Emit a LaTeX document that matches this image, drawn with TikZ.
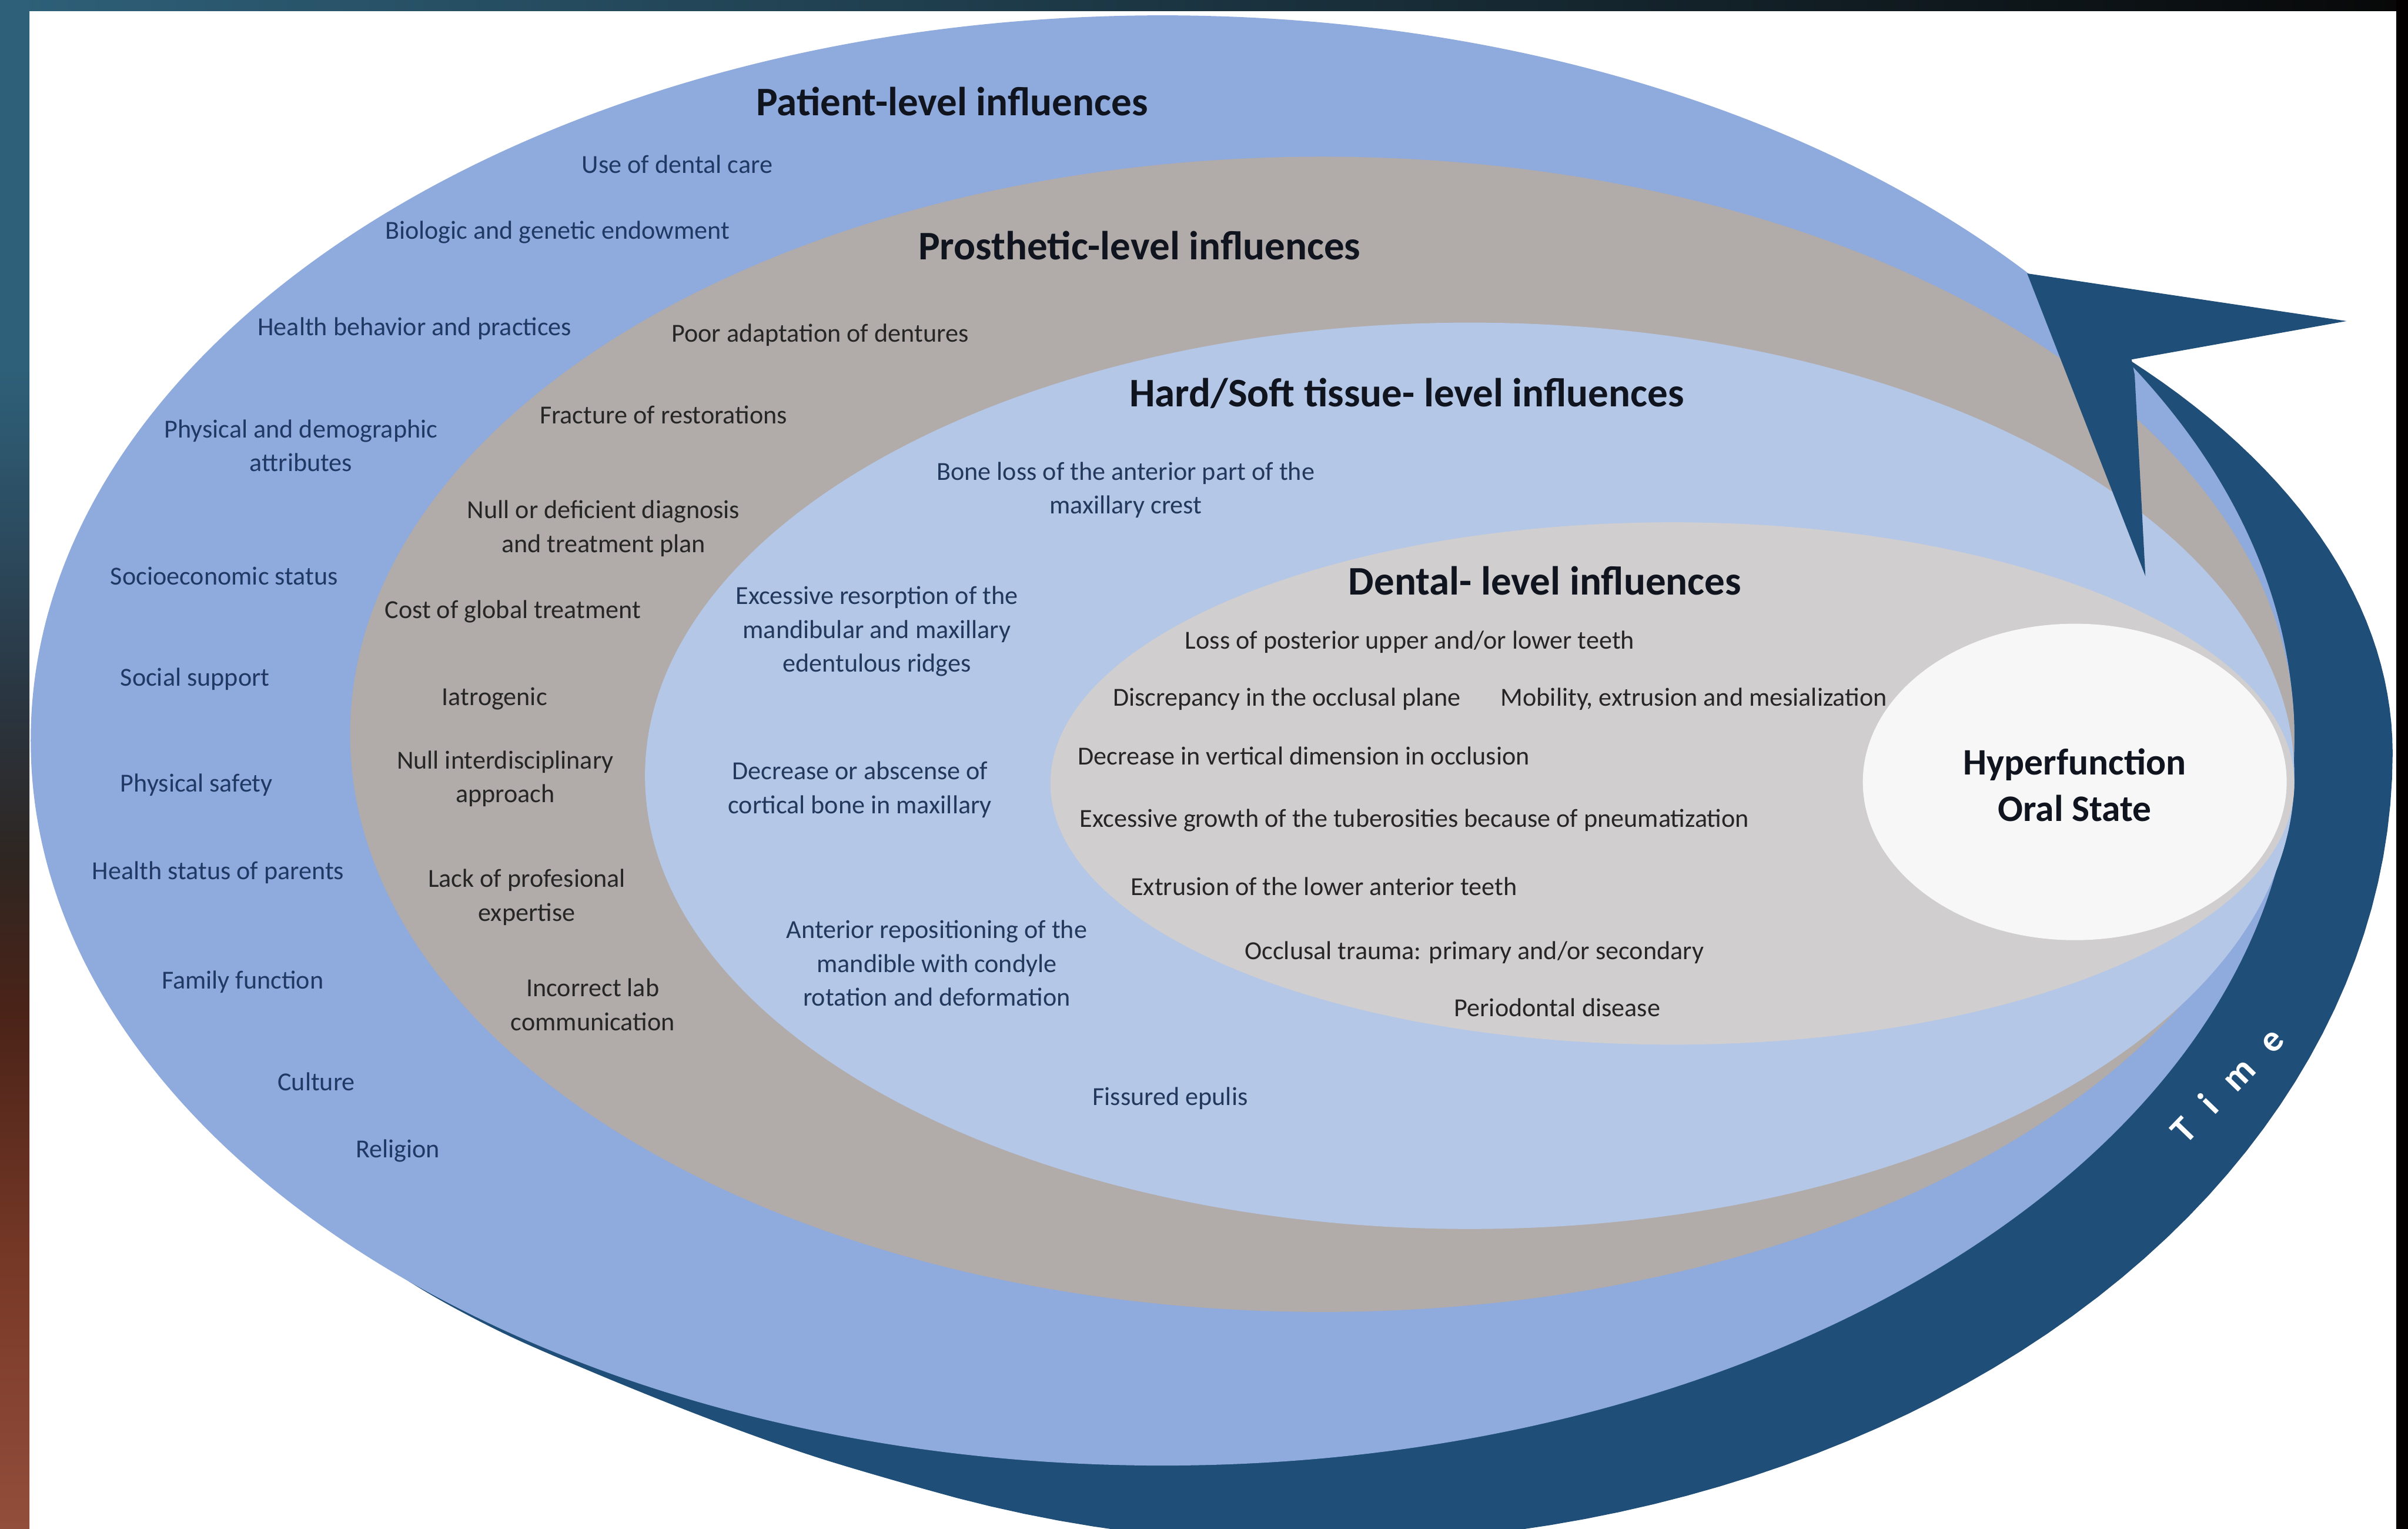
\documentclass[tikz,border=0pt]{standalone}
\usepackage{fontspec}
\setmainfont{Carlito}

\definecolor{patientblue}{HTML}{8FAADC}
\definecolor{prostgrey}{HTML}{B1ABA9}
\definecolor{tissueblue}{HTML}{B4C7E7}
\definecolor{dentalgrey}{HTML}{D0CECE}
\definecolor{corewhite}{HTML}{F7F7F7}
\definecolor{timeblue}{HTML}{1F4E79}
\definecolor{navytext}{HTML}{1F3864}
\definecolor{greytext}{HTML}{262626}
\definecolor{tissuetext}{HTML}{22385C}
\definecolor{titletext}{HTML}{10141F}
\definecolor{frameteal}{HTML}{2E6079}
\definecolor{frametealdark}{HTML}{2C4D62}
\definecolor{frameslate}{HTML}{2A3540}
\definecolor{framedark}{HTML}{2E2622}
\definecolor{framebrown}{HTML}{4A2318}
\definecolor{framered}{HTML}{7A3A28}
\definecolor{framerust}{HTML}{934D3B}

\pgfdeclareverticalshading{leftframe}{100bp}{%
  color(0bp)=(framerust); color(25bp)=(framerust); color(33bp)=(framered);
  color(42bp)=(framebrown); color(47bp)=(framedark); color(52bp)=(frameslate);
  color(58bp)=(frametealdark); color(63bp)=(frameteal); color(75bp)=(frameteal);
  color(100bp)=(frameteal)}

\begin{document}
\begin{tikzpicture}[
    x=0.016633cm, y=-0.016633cm,
    leveltitle/.style={text=titletext, font=\fontsize{12.5}{15}\selectfont\bfseries, inner sep=0pt},
    patientitem/.style={text=navytext, font=\fontsize{8}{10.4}\selectfont, align=center, inner sep=0pt},
    prostitem/.style={text=greytext, font=\fontsize{8}{10.4}\selectfont, align=center, inner sep=0pt},
    tissueitem/.style={text=tissuetext, font=\fontsize{8}{10.4}\selectfont, align=center, inner sep=0pt},
    dentalitem/.style={text=greytext, font=\fontsize{8}{10.4}\selectfont, align=center, inner sep=0pt}
  ]
  \useasboundingbox (0,0) rectangle (1568,995.3);
  \fill[white] (0,0) rectangle (1568,995.3);

  % Time arrow, body first so the rings sit on it
  \fill[timeblue]
    plot[domain=-41:0, samples=30, variable=\t] ({858+700*cos(\t)}, {490+390*sin(\t)})
    -- plot[domain=0:111.5, samples=60, variable=\t] ({858+700*cos(\t)}, {490+515*sin(\t)})
    -- plot[smooth, tension=0.6] coordinates {
      (601,969) (530,948) (460,923) (383,892) (320,864) (260,830) (210,790)}
    -- (420,700) -- (1000,750) -- (1380,420) -- (1390,244) -- cycle;

  % Rings
  \fill[patientblue] (757,482) ellipse [x radius=737, y radius=472];
  \fill[prostgrey] (861,478) ellipse [x radius=633, y radius=376];
  \fill[tissueblue] (957,505) ellipse [x radius=537, y radius=295];
  \fill[dentalgrey] (1089,510) ellipse [x radius=405, y radius=170];
  \fill[corewhite] (1351,509) ellipse [x radius=138, y radius=103];

  % Arrow head
  \fill[timeblue] (1320,178) -- (1528,209) -- (1388,234) -- (1390,244) -- (1397,375) -- cycle;
  \node[text=white, font=\fontsize{11.5}{13}\selectfont\bfseries, rotate=46] (timelabel) at (1450,706)
    {T\hspace{0.6em}i\hspace{0.6em}m\hspace{0.6em}e};

  % Titles
  \node[leveltitle] (patienttitle) at (620,66) {Patient-level influences};
  \node[leveltitle] (prosttitle) at (742,160) {Prosthetic-level influences};
  \node[leveltitle] (tissuetitle) at (916,256) {Hard/Soft tissue- level influences};
  \node[leveltitle] (dentaltitle) at (1006,378) {Dental- level influences};
  \node[leveltitle, font=\fontsize{11.5}{14.2}\selectfont\bfseries, align=center] (core) at (1351,511)
    {Hyperfunction\\Oral State};

  % Patient level
  \node[patientitem] (usecare) at (441,107) {Use of dental care};
  \node[patientitem] (biologic) at (363,151) {Biologic and genetic endowment};
  \node[patientitem] (behavior) at (270,214) {Health behavior and practices};
  \node[patientitem] (demographic) at (196,290) {Physical and demographic\\attributes};
  \node[patientitem] (socio) at (146,375) {Socioeconomic status};
  \node[patientitem] (support) at (127,442) {Social support};
  \node[patientitem] (safety) at (128,511) {Physical safety};
  \node[patientitem] (parents) at (142,568) {Health status of parents};
  \node[patientitem] (family) at (158,639) {Family function};
  \node[patientitem] (culture) at (206,704) {Culture};
  \node[patientitem] (religion) at (259,749) {Religion};

  % Prosthetic level
  \node[prostitem] (dentures) at (534,218) {Poor adaptation of dentures};
  \node[prostitem] (fracture) at (432,270) {Fracture of restorations};
  \node[prostitem] (diagnosis) at (393,344) {Null or deficient diagnosis\\and treatment plan};
  \node[prostitem] (cost) at (334,398) {Cost of global treatment};
  \node[prostitem] (iatrogenic) at (322,455) {Iatrogenic};
  \node[prostitem] (interdisc) at (329,507) {Null interdisciplinary\\approach};
  \node[prostitem] (expertise) at (343,584) {Lack of profesional\\expertise};
  \node[prostitem] (labcomm) at (386,654) {Incorrect lab\\communication};

  % Hard/soft tissue level
  \node[tissueitem] (boneloss) at (733,319) {Bone loss of the anterior part of the\\maxillary crest};
  \node[tissueitem] (resorption) at (571,411) {Excessive resorption of the\\mandibular and maxillary\\edentulous ridges};
  \node[tissueitem] (cortical) at (560,514) {Decrease or abscense of\\cortical bone in maxillary};
  \node[tissueitem] (reposition) at (610,627) {Anterior repositioning of the\\mandible with condyle\\rotation and deformation};
  \node[tissueitem] (epulis) at (762,715) {Fissured epulis};

  % Dental level
  \node[dentalitem] (posterior) at (918,418) {Loss of posterior upper and/or lower teeth};
  \node[dentalitem] (discrepancy) at (838,455) {Discrepancy in the occlusal plane};
  \node[dentalitem] (mobility) at (1103,455) {Mobility, extrusion and mesialization};
  \node[dentalitem] (vertical) at (849,492) {Decrease in vertical dimension in occlusion};
  \node[dentalitem] (tuberosities) at (921,534) {Excessive growth of the tuberosities because of pneumatization};
  \node[dentalitem] (extrusion) at (862,577) {Extrusion of the lower anterior teeth};
  \node[dentalitem] (trauma) at (960,620) {Occlusal trauma: primary and/or secondary};
  \node[dentalitem] (perio) at (1014,656) {Periodontal disease};

  % Frame
  \shade[left color=frameteal, right color=black!97] (0,0) rectangle (1568,7.2);
  \fill[shading=leftframe] (0,0) rectangle (19.2,995.3);
  \fill[black!98!red] (1560.2,0) rectangle (1568,995.3);
\end{tikzpicture}
\end{document}
